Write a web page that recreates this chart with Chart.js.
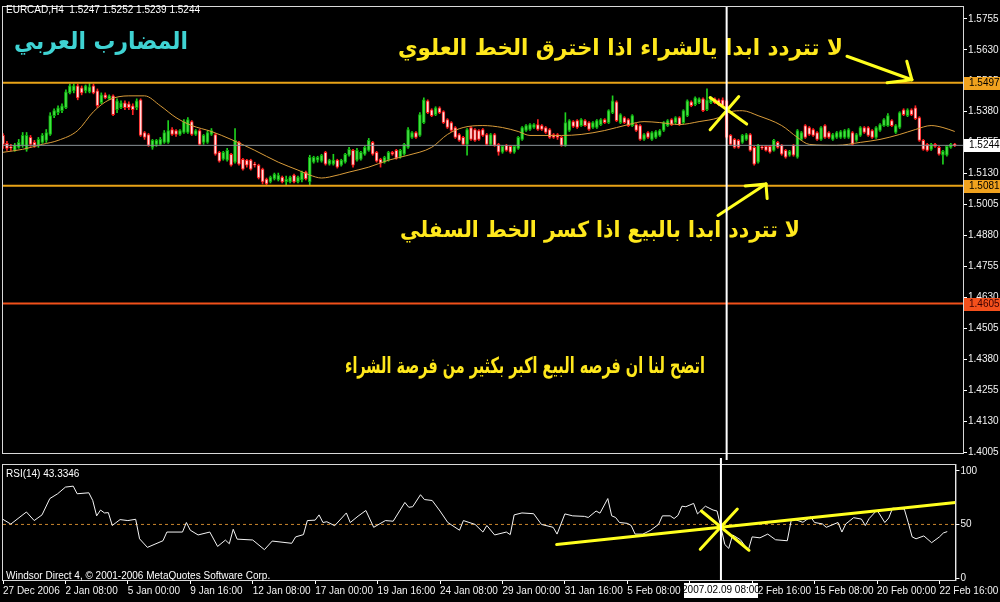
<!DOCTYPE html>
<html>
<head>
<meta charset="utf-8">
<script src="https://cdn.jsdelivr.net/npm/chart.js@4.4.0/dist/chart.umd.min.js"></script>
<style>
html, body { margin: 0; padding: 0; background: #000; }
#wrap { position: relative; width: 1000px; height: 602px; overflow: hidden; background: #000; }
#mainChart { position: absolute; left: 0; top: 0; }
#rsiChart { position: absolute; left: 0; top: 458px; }
</style>
</head>
<body>
<div id="wrap">
  <canvas id="mainChart" width="1000" height="460"></canvas>
  <canvas id="rsiChart" width="1000" height="144"></canvas>
</div>
<script>
// EURCAD H4, 27 Dec 2006 .. 22 Feb 2007, one entry per bar
const symbol = 'EURCAD,H4'

const openP = [
  1.5284,1.5252,1.5236,1.5224,1.5236,1.5244,1.5228,1.5276,1.5256,1.5244,
  1.5256,1.5264,1.5288,1.5364,1.5376,1.5384,1.5396,1.5456,1.5464,1.5484,
  1.5476,1.5464,1.5460,1.5484,1.5464,1.5416,1.5448,1.5432,1.5444,1.5388,
  1.5396,1.5416,1.5412,1.5404,1.5396,1.5428,1.5296,1.5288,1.5236,1.5248,
  1.5248,1.5256,1.5256,1.5308,1.5304,1.5288,1.5296,1.5296,1.5340,1.5288,
  1.5304,1.5256,1.5256,1.5288,1.5288,1.5216,1.5188,1.5184,1.5208,1.5176,
  1.5256,1.5188,1.5184,1.5184,1.5168,1.5164,1.5148,1.5108,1.5096,1.5108,
  1.5104,1.5116,1.5096,1.5096,1.5124,1.5096,1.5104,1.5136,1.5096,1.5176,
  1.5184,1.5180,1.5216,1.5168,1.5168,1.5184,1.5164,1.5176,1.5204,1.5224,
  1.5184,1.5188,1.5208,1.5224,1.5256,1.5216,1.5188,1.5176,1.5184,1.5216,
  1.5224,1.5196,1.5208,1.5236,1.5276,1.5296,1.5284,1.5336,1.5424,1.5388,
  1.5368,1.5396,1.5380,1.5348,1.5336,1.5316,1.5288,1.5276,1.5248,1.5316,
  1.5308,1.5304,1.5308,1.5288,1.5248,1.5288,1.5248,1.5216,1.5244,1.5240,
  1.5216,1.5232,1.5268,1.5304,1.5308,1.5316,1.5328,1.5324,1.5316,1.5308,
  1.5288,1.5288,1.5276,1.5244,1.5304,1.5340,1.5344,1.5324,1.5344,1.5336,
  1.5316,1.5316,1.5328,1.5348,1.5336,1.5376,1.5420,1.5336,1.5356,1.5348,
  1.5324,1.5328,1.5324,1.5268,1.5296,1.5268,1.5276,1.5284,1.5304,1.5324,
  1.5348,1.5336,1.5356,1.5336,1.5364,1.5420,1.5408,1.5416,1.5432,1.5388,
  1.5416,1.5432,1.5428,1.5428,1.5424,1.5284,1.5268,1.5264,1.5256,1.5268,
  1.5288,1.5236,1.5176,1.5236,1.5240,1.5240,1.5224,1.5256,1.5244,1.5224,
  1.5204,1.5244,1.5196,1.5268,1.5324,1.5316,1.5308,1.5296,1.5268,1.5324,
  1.5296,1.5268,1.5276,1.5276,1.5276,1.5276,1.5296,1.5264,1.5284,1.5316,
  1.5316,1.5304,1.5276,1.5304,1.5324,1.5324,1.5344,1.5296,1.5316,1.5388,
  1.5364,1.5388,1.5396,1.5356,1.5264,1.5248,1.5228,1.5248,1.5236,1.5204,
  1.5204,1.5236,1.5247
]
const highP = [
  1.5292,1.5260,1.5248,1.5252,1.5268,1.5296,1.5296,1.5284,1.5264,1.5276,
  1.5292,1.5308,1.5376,1.5392,1.5404,1.5412,1.5468,1.5492,1.5492,1.5492,
  1.5484,1.5488,1.5496,1.5492,1.5472,1.5456,1.5456,1.5448,1.5448,1.5432,
  1.5424,1.5424,1.5420,1.5412,1.5432,1.5432,1.5300,1.5292,1.5268,1.5268,
  1.5276,1.5304,1.5344,1.5316,1.5308,1.5308,1.5348,1.5356,1.5344,1.5308,
  1.5308,1.5288,1.5304,1.5312,1.5292,1.5220,1.5220,1.5232,1.5212,1.5312,
  1.5260,1.5192,1.5188,1.5188,1.5176,1.5168,1.5152,1.5112,1.5120,1.5132,
  1.5132,1.5120,1.5120,1.5120,1.5128,1.5120,1.5140,1.5140,1.5204,1.5200,
  1.5200,1.5208,1.5220,1.5188,1.5208,1.5188,1.5188,1.5212,1.5236,1.5228,
  1.5232,1.5220,1.5240,1.5272,1.5260,1.5220,1.5192,1.5200,1.5220,1.5220,
  1.5228,1.5228,1.5252,1.5316,1.5300,1.5300,1.5376,1.5436,1.5428,1.5392,
  1.5400,1.5400,1.5384,1.5352,1.5340,1.5320,1.5292,1.5280,1.5312,1.5320,
  1.5312,1.5308,1.5312,1.5292,1.5292,1.5292,1.5252,1.5244,1.5248,1.5244,
  1.5244,1.5280,1.5320,1.5328,1.5332,1.5332,1.5348,1.5328,1.5320,1.5312,
  1.5292,1.5292,1.5280,1.5376,1.5348,1.5344,1.5348,1.5352,1.5348,1.5340,
  1.5340,1.5348,1.5352,1.5352,1.5388,1.5444,1.5424,1.5372,1.5360,1.5352,
  1.5368,1.5332,1.5328,1.5292,1.5300,1.5300,1.5304,1.5308,1.5340,1.5348,
  1.5352,1.5360,1.5360,1.5388,1.5428,1.5424,1.5440,1.5436,1.5436,1.5472,
  1.5440,1.5436,1.5432,1.5436,1.5428,1.5288,1.5272,1.5268,1.5288,1.5292,
  1.5292,1.5240,1.5248,1.5244,1.5244,1.5244,1.5268,1.5260,1.5248,1.5228,
  1.5224,1.5248,1.5308,1.5300,1.5328,1.5320,1.5312,1.5300,1.5320,1.5328,
  1.5300,1.5292,1.5300,1.5304,1.5308,1.5312,1.5300,1.5292,1.5320,1.5320,
  1.5320,1.5308,1.5320,1.5332,1.5352,1.5372,1.5348,1.5328,1.5380,1.5392,
  1.5392,1.5392,1.5404,1.5360,1.5268,1.5252,1.5252,1.5252,1.5240,1.5224,
  1.5244,1.5252,1.5252
]
const lowP = [
  1.5232,1.5224,1.5224,1.5220,1.5232,1.5236,1.5220,1.5240,1.5236,1.5236,
  1.5252,1.5256,1.5284,1.5356,1.5368,1.5376,1.5392,1.5452,1.5456,1.5428,
  1.5448,1.5456,1.5456,1.5452,1.5396,1.5412,1.5432,1.5428,1.5364,1.5376,
  1.5392,1.5388,1.5388,1.5368,1.5388,1.5280,1.5268,1.5240,1.5228,1.5240,
  1.5244,1.5252,1.5252,1.5284,1.5280,1.5284,1.5292,1.5292,1.5284,1.5284,
  1.5244,1.5248,1.5252,1.5284,1.5204,1.5176,1.5184,1.5180,1.5160,1.5172,
  1.5164,1.5144,1.5156,1.5144,1.5156,1.5108,1.5088,1.5084,1.5092,1.5104,
  1.5100,1.5092,1.5084,1.5092,1.5092,1.5092,1.5096,1.5104,1.5084,1.5172,
  1.5176,1.5176,1.5164,1.5164,1.5164,1.5152,1.5160,1.5172,1.5200,1.5156,
  1.5180,1.5184,1.5204,1.5220,1.5204,1.5176,1.5156,1.5172,1.5180,1.5204,
  1.5188,1.5192,1.5204,1.5232,1.5272,1.5272,1.5280,1.5332,1.5372,1.5360,
  1.5364,1.5372,1.5332,1.5312,1.5300,1.5272,1.5260,1.5244,1.5204,1.5264,
  1.5260,1.5264,1.5280,1.5244,1.5244,1.5240,1.5204,1.5212,1.5220,1.5212,
  1.5212,1.5228,1.5264,1.5300,1.5304,1.5312,1.5304,1.5304,1.5292,1.5272,
  1.5272,1.5268,1.5240,1.5240,1.5300,1.5316,1.5312,1.5320,1.5320,1.5304,
  1.5312,1.5312,1.5324,1.5332,1.5332,1.5372,1.5340,1.5332,1.5332,1.5320,
  1.5320,1.5300,1.5264,1.5264,1.5272,1.5264,1.5272,1.5280,1.5300,1.5320,
  1.5324,1.5332,1.5324,1.5332,1.5360,1.5400,1.5404,1.5412,1.5380,1.5384,
  1.5412,1.5412,1.5404,1.5400,1.5272,1.5244,1.5232,1.5232,1.5252,1.5264,
  1.5220,1.5164,1.5172,1.5228,1.5220,1.5212,1.5220,1.5232,1.5204,1.5192,
  1.5200,1.5200,1.5192,1.5264,1.5272,1.5284,1.5280,1.5264,1.5264,1.5272,
  1.5272,1.5264,1.5272,1.5272,1.5272,1.5272,1.5244,1.5260,1.5280,1.5292,
  1.5280,1.5272,1.5272,1.5300,1.5320,1.5320,1.5320,1.5292,1.5312,1.5364,
  1.5360,1.5364,1.5348,1.5260,1.5224,1.5220,1.5224,1.5236,1.5204,1.5168,
  1.5200,1.5232,1.5239
]
const closeP = [
  1.5248,1.5232,1.5234,1.5244,1.5256,1.5284,1.5284,1.5248,1.5244,1.5268,
  1.5284,1.5296,1.5364,1.5384,1.5396,1.5404,1.5460,1.5484,1.5484,1.5436,
  1.5456,1.5484,1.5480,1.5456,1.5404,1.5448,1.5436,1.5444,1.5368,1.5424,
  1.5416,1.5396,1.5396,1.5388,1.5424,1.5284,1.5276,1.5244,1.5264,1.5264,
  1.5268,1.5296,1.5304,1.5288,1.5288,1.5304,1.5340,1.5348,1.5288,1.5304,
  1.5248,1.5284,1.5296,1.5304,1.5208,1.5180,1.5216,1.5224,1.5164,1.5264,
  1.5168,1.5148,1.5164,1.5148,1.5164,1.5112,1.5096,1.5088,1.5116,1.5128,
  1.5124,1.5096,1.5108,1.5116,1.5096,1.5116,1.5136,1.5108,1.5196,1.5196,
  1.5196,1.5204,1.5168,1.5184,1.5184,1.5156,1.5184,1.5208,1.5228,1.5164,
  1.5224,1.5216,1.5236,1.5264,1.5208,1.5180,1.5172,1.5196,1.5216,1.5208,
  1.5192,1.5224,1.5248,1.5308,1.5296,1.5276,1.5368,1.5428,1.5376,1.5364,
  1.5396,1.5376,1.5336,1.5316,1.5304,1.5276,1.5264,1.5248,1.5308,1.5268,
  1.5264,1.5268,1.5284,1.5248,1.5288,1.5244,1.5216,1.5240,1.5224,1.5216,
  1.5240,1.5276,1.5316,1.5324,1.5328,1.5328,1.5308,1.5308,1.5296,1.5276,
  1.5276,1.5276,1.5244,1.5336,1.5344,1.5320,1.5316,1.5348,1.5324,1.5308,
  1.5336,1.5344,1.5348,1.5336,1.5384,1.5424,1.5344,1.5368,1.5336,1.5324,
  1.5364,1.5304,1.5268,1.5288,1.5276,1.5296,1.5300,1.5304,1.5336,1.5344,
  1.5328,1.5356,1.5328,1.5384,1.5424,1.5404,1.5436,1.5432,1.5384,1.5428,
  1.5436,1.5416,1.5408,1.5404,1.5276,1.5248,1.5236,1.5236,1.5284,1.5288,
  1.5224,1.5168,1.5244,1.5234,1.5224,1.5216,1.5264,1.5236,1.5208,1.5196,
  1.5220,1.5204,1.5304,1.5296,1.5276,1.5288,1.5284,1.5268,1.5316,1.5276,
  1.5276,1.5288,1.5296,1.5300,1.5304,1.5308,1.5248,1.5288,1.5316,1.5296,
  1.5284,1.5276,1.5316,1.5328,1.5348,1.5364,1.5324,1.5324,1.5376,1.5368,
  1.5388,1.5368,1.5352,1.5264,1.5228,1.5224,1.5248,1.5240,1.5208,1.5220,
  1.5240,1.5248,1.5244
]

// moving average at these bars
const maBars = [0,5,10,14,19,23,27,32,36,40,44,48,53,58,64,70,75,78,81,83,
  88,93,98,103,109,113,117,122,127,131,134,142,147,153,159,163,167,172,177,182,
  185,188,192,198,202,205,212,218,223,228,232,236,239,242]
const maVals = [1.5216,1.5228,1.5248,1.5264,1.5304,1.5380,1.5428,1.5444,1.5444,1.5404,
  1.5356,1.5324,1.5300,1.5268,1.5224,1.5176,1.5144,1.5124,1.5112,1.5116,
  1.5136,1.5156,1.5184,1.5204,1.5236,1.5288,1.5316,1.5324,1.5316,1.5300,
  1.5284,1.5284,1.5288,1.5304,1.5328,1.5340,1.5336,1.5328,1.5340,1.5356,
  1.5380,1.5384,1.5364,1.5324,1.5276,1.5248,1.5244,1.5256,1.5268,1.5288,
  1.5308,1.5324,1.5316,1.5300]

// RSI(14)
const rsiBars = [0,2,6,8,10,12,14,16,18,19,22,23,24,25,26,27,28,30,32,34,
  35,37,41,42,46,47,48,50,53,55,57,58,59,60,64,67,69,74,75,77,
  78,80,81,82,83,85,88,89,91,93,95,98,100,103,104,105,107,108,110,112,
  114,117,118,121,123,124,126,129,130,131,133,136,138,141,142,144,146,149,150,152,
  153,155,156,157,158,160,161,162,164,166,168,169,171,172,173,174,175,177,178,180,
  182,183,184,185,186,187,189,191,192,194,196,198,201,202,203,205,207,208,210,211,
  214,215,216,218,220,221,222,224,226,227,228,231,232,233,234,236,238,240,241,242]
const rsiVals = [54.7,50.3,61.6,53.6,58.9,74.1,78.6,84.8,85.7,78.6,79.5,72.3,58,63.4,60.7,61,49,54.5,53.6,54.8,
  36.6,28.6,34.8,42.9,42.9,51.8,44.6,40.2,42.9,29.5,35.4,32,45.5,36.3,35.5,26.5,34.5,32.4,38.4,40.5,
  53.6,54,58.9,51.8,52.5,48.8,60.7,51.8,57.7,63,47.3,53.6,53,70.5,66,66.5,77.7,73.2,72.3,62.5,
  51.8,44.6,53.6,50,42.9,49,40.2,42.9,40.5,58.9,60.7,60,50,47.3,41,59.8,58,57.5,56.5,62.5,
  60.5,74.1,58,56.5,51.8,51,49,41,41,44.6,50,58,58,55.5,58.5,67,66.5,69.6,59.8,67,
  63.4,62.5,47.3,31.3,27.7,40.2,35.7,25.9,38.4,37.5,41,35.7,34.8,53.6,54.5,52,57.1,51.8,50.5,47.3,
  51.8,42.9,50.5,56.3,55,49,55.5,63.4,51.8,56,65.2,64.3,51.8,38.4,36.6,39.3,33,38.4,42,43.3346]

// axes
const priceTicks = [1.4005,1.4130,1.4255,1.4380,1.4505,1.4630,1.4755,1.4880,
  1.5005,1.5130,1.5255,1.5380,1.5505,1.5630,1.5755]
const rsiTicks = [0, 50, 100]
const timeTickBars = [0,16,32,48,64,80,96,112,128,144,160,176,192,208,224,240]
const timeTickLabels = ['27 Dec 2006','2 Jan 08:00','5 Jan 00:00','9 Jan 16:00','12 Jan 08:00',
  '17 Jan 00:00','19 Jan 16:00','24 Jan 08:00','29 Jan 00:00','31 Jan 16:00','5 Feb 08:00',
  '8 Feb 00:00','12 Feb 16:00','15 Feb 08:00','20 Feb 00:00','22 Feb 16:00']
const xMax = 244.1

// horizontal levels
const levelUp = 1.5497
const levelDown = 1.5081
const levelLow = 1.4605
const lastPrice = closeP[closeP.length - 1]

// crosshair
const crossBar = 184
const crossLabel = '2007.02.09 08:00'

// yellow drawings [bar1, value1, bar2, value2]
const mainMarks = [
  [179.8, 1.5437, 189.1, 1.5330], [187.1, 1.5441, 179.8, 1.5307],
  [214.6, 1.5604, 231.1, 1.5509], [231.1, 1.5509, 229.8, 1.5584], [231.1, 1.5509, 224.8, 1.5497],
  [181.8, 1.4961, 194.0, 1.5088], [194.0, 1.5088, 194.3, 1.5029], [194.0, 1.5088, 188.7, 1.5080]
]
const rsiMarks = [
  [141.9, 31.3, 244.1, 70.5],
  [178.7, 26.8, 188.2, 64.3], [179.0, 62.5, 191.2, 25.9]
]

const titleText = 'المضارب العربي'
const buyText = 'لا تتردد ابدا يالشراء اذا اخترق الخط العلوي'
const sellText = 'لا تتردد ابدا بالبيع اذا كسر الخط السفلي'
const summaryText = 'اتضح لنا ان فرصه البيع اكبر بكثير من فرصة الشراء'

const axisFont = { family: 'Liberation Sans', size: 10 }
const isUp = i => closeP[i] >= openP[i]
const barIdx = closeP.map((c, i) => i)

function hLine(val, color, width, dash, order) {
  return {
    type: 'line', order: order,
    data: [{ x: 0, y: val }, { x: xMax, y: val }],
    borderColor: color, borderWidth: width, borderDash: dash || [],
    pointRadius: 0
  }
}
function segment(m, color, width) {
  return {
    type: 'line', order: 1,
    data: [{ x: m[0], y: m[1] }, { x: m[2], y: m[3] }],
    borderColor: color, borderWidth: width, pointRadius: 0, borderCapStyle: 'round'
  }
}

// fixed font size, squeezed sideways to the width seen on the picture
function fitText(ctx, text, right, mid, width, size, color) {
  ctx.save()
  ctx.font = 'bold ' + size + 'px "DejaVu Sans"'
  const sx = width / ctx.measureText(text).width
  ctx.translate(right, mid)
  ctx.scale(sx, 1)
  ctx.fillStyle = color
  ctx.textAlign = 'right'
  ctx.textBaseline = 'middle'
  ctx.fillText(text, 0, 0)
  ctx.restore()
}

function tagBox(ctx, area, y, val, bg, fg) {
  ctx.fillStyle = bg
  ctx.fillRect(area.right + 1, Math.round(y) - 6, 36, 13)
  ctx.fillStyle = fg
  ctx.font = '10px "Liberation Sans"'
  ctx.textAlign = 'left'
  ctx.textBaseline = 'middle'
  ctx.fillText(val.toFixed(4), area.right + 6, Math.round(y) + 0.5)
}

const mainDecor = {
  id: 'mainDecor',
  afterDatasetsDraw(chart) {
    const ctx = chart.ctx
    fitText(ctx, titleText, 188, 43, 174, 24, '#3fd3d3')
    fitText(ctx, buyText, 843, 49, 445, 22, '#ffe81c')
    fitText(ctx, sellText, 800, 231, 400, 22, '#ffe81c')
    fitText(ctx, summaryText, 705, 367, 360, 22, '#ffe81c')
  },
  afterDraw(chart) {
    const ctx = chart.ctx
    const a = chart.chartArea
    const xs = chart.scales.x
    const ys = chart.scales.y
    ctx.save()
    ctx.strokeStyle = '#d8d8d8'
    ctx.lineWidth = 1
    ctx.strokeRect(a.left - 0.5, a.top - 0.5, a.right - a.left + 1, a.bottom - a.top + 1)
    const cx = xs.getPixelForValue(crossBar)
    ctx.strokeStyle = '#ffffff'
    ctx.lineWidth = 2
    ctx.beginPath()
    ctx.moveTo(cx, a.top)
    ctx.lineTo(cx, chart.height)
    ctx.stroke()
    tagBox(ctx, a, ys.getPixelForValue(levelUp), levelUp, '#f0a21e', '#000')
    tagBox(ctx, a, ys.getPixelForValue(lastPrice), lastPrice, '#ffffff', '#000')
    tagBox(ctx, a, ys.getPixelForValue(levelDown), levelDown, '#f0a21e', '#000')
    tagBox(ctx, a, ys.getPixelForValue(levelLow), levelLow, '#f4501c', '#3a0000')
    const n = closeP.length - 1
    ctx.fillStyle = '#ffffff'
    ctx.font = '10px "Liberation Sans"'
    ctx.textAlign = 'left'
    ctx.textBaseline = 'middle'
    ctx.fillText(symbol + '  ' + openP[n].toFixed(4) + ' ' + highP[n].toFixed(4) + ' ' +
      lowP[n].toFixed(4) + ' ' + closeP[n].toFixed(4), 6, 10)
    ctx.restore()
  }
}

new Chart(document.getElementById('mainChart'), {
  type: 'bar',
  data: {
    datasets: [
      {
        type: 'bar', order: 10,
        data: barIdx.map(i => ({ x: i, y: [lowP[i], highP[i]] })),
        backgroundColor: c => isUp(c.dataIndex) ? '#1ed21e' : '#ff2424',
        barThickness: 1, grouped: false, borderWidth: 0
      },
      {
        type: 'bar', order: 9,
        data: barIdx.map(i => ({ x: i, y: [openP[i], closeP[i]] })),
        backgroundColor: c => isUp(c.dataIndex) ? '#46e046' : '#ffdcdc',
        borderColor: c => isUp(c.dataIndex) ? '#08a808' : '#ff1a1a',
        borderWidth: 1, borderSkipped: false, barThickness: 3, grouped: false, minBarLength: 1
      },
      {
        type: 'line', order: 8,
        data: maBars.map((b, k) => ({ x: b, y: maVals[k] })),
        borderColor: '#d99c3a', borderWidth: 1, pointRadius: 0,
        cubicInterpolationMode: 'monotone'
      },
      hLine(levelUp, '#e8a317', 2, null, 5),
      hLine(levelDown, '#e8a317', 2, null, 5),
      hLine(lastPrice, '#8a9296', 1, null, 5),
      hLine(levelLow, '#f0501a', 2, null, 5),
      ...mainMarks.map(m => segment(m, '#ffff1e', 3))
    ]
  },
  options: {
    responsive: false,
    animation: false,
    events: [],
    layout: { padding: { left: 3, top: 3, right: 0, bottom: 3 } },
    plugins: { legend: { display: false }, tooltip: { enabled: false } },
    scales: {
      x: { type: 'linear', min: 0, max: xMax, display: false, offset: false },
      y: {
        position: 'right', min: 1.4001, max: 1.5803,
        afterBuildTicks: s => { s.ticks = priceTicks.map(v => ({ value: v })) },
        afterFit: s => { s.width = 37 },
        ticks: { color: '#f2f2f2', font: axisFont, padding: 1, autoSkip: false,
          callback: v => v.toFixed(4) },
        grid: { drawOnChartArea: false, color: '#ffffff', tickLength: 4 },
        border: { color: '#ffffff' }
      }
    }
  },
  plugins: [mainDecor]
})

const rsiDecor = {
  id: 'rsiDecor',
  afterDraw(chart) {
    const ctx = chart.ctx
    const a = chart.chartArea
    const xs = chart.scales.x
    ctx.save()
    ctx.strokeStyle = '#d8d8d8'
    ctx.lineWidth = 1
    ctx.strokeRect(a.left - 0.5, a.top - 0.5, a.right - a.left + 1, a.bottom - a.top + 1)
    const cx = xs.getPixelForValue(crossBar)
    ctx.strokeStyle = '#ffffff'
    ctx.lineWidth = 2
    ctx.beginPath()
    ctx.moveTo(cx, 0)
    ctx.lineTo(cx, a.bottom)
    ctx.stroke()
    ctx.font = '10px "Liberation Sans"'
    ctx.textBaseline = 'middle'
    ctx.fillStyle = '#ffffff'
    ctx.fillRect(Math.round(cx) - 37, a.bottom + 3, 74, 15)
    ctx.fillStyle = '#000000'
    ctx.textAlign = 'center'
    ctx.fillText(crossLabel, cx, a.bottom + 10.5)
    ctx.fillStyle = '#ffffff'
    ctx.textAlign = 'left'
    ctx.fillText('RSI(14) ' + rsiVals[rsiVals.length - 1].toFixed(4), 6, a.top + 9)
    ctx.fillText('Windsor Direct 4, © 2001-2006 MetaQuotes Software Corp.', 6, a.bottom - 4)
    ctx.restore()
  }
}

new Chart(document.getElementById('rsiChart'), {
  type: 'line',
  data: {
    datasets: [
      hLine(50, '#c8842c', 1, [3, 3], 6),
      {
        type: 'line', order: 4,
        data: rsiBars.map((b, k) => ({ x: b, y: rsiVals[k] })),
        borderColor: '#f4f4f4', borderWidth: 1, pointRadius: 0, tension: 0
      },
      ...rsiMarks.map(m => segment(m, '#ffff1e', 3))
    ]
  },
  options: {
    responsive: false,
    animation: false,
    events: [],
    layout: { padding: { left: 3, top: 2, right: 0, bottom: 0 } },
    plugins: { legend: { display: false }, tooltip: { enabled: false } },
    scales: {
      x: {
        type: 'linear', min: 0, max: xMax, position: 'bottom',
        afterBuildTicks: s => { s.ticks = timeTickBars.map(v => ({ value: v })) },
        afterFit: s => { s.height = 22 },
        ticks: { color: '#f2f2f2', font: axisFont, align: 'start', maxRotation: 0,
          autoSkip: false, padding: 1,
          callback: v => timeTickLabels[timeTickBars.indexOf(v)] },
        grid: { drawOnChartArea: false, color: '#ffffff', tickLength: 4 },
        border: { color: '#ffffff' }
      },
      y: {
        position: 'right', min: -1.8, max: 105.4,
        afterBuildTicks: s => { s.ticks = rsiTicks.map(v => ({ value: v })) },
        afterFit: s => { s.width = 37 },
        ticks: { color: '#f2f2f2', font: axisFont, padding: 1, autoSkip: false },
        grid: { drawOnChartArea: false, color: '#ffffff', tickLength: 4 },
        border: { color: '#ffffff' }
      }
    }
  },
  plugins: [rsiDecor]
})
</script>
</body>
</html>
